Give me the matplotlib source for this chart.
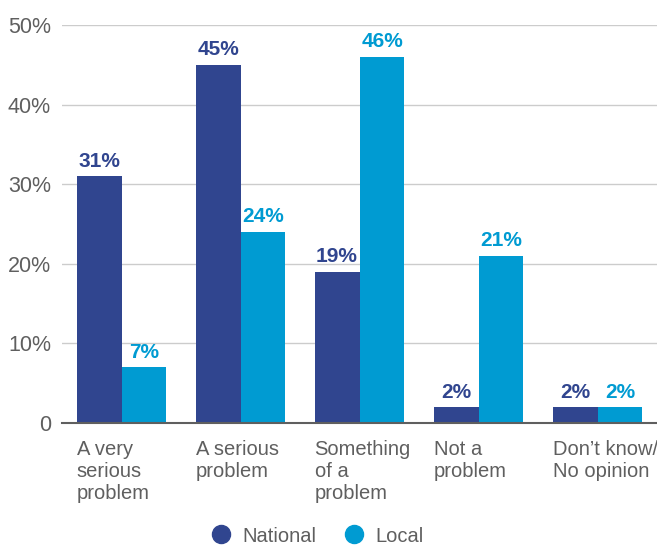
import numpy as np
import matplotlib.pyplot as plt
from matplotlib.lines import Line2D
from matplotlib.transforms import blended_transform_factory

plt.rcParams['font.family'] = ['Liberation Sans', 'DejaVu Sans']

categories = ["A very\nserious\nproblem", "A serious\nproblem", "Something\nof a\nproblem",
              "Not a\nproblem", "Don\u2019t know/\nNo opinion"]
national = [31, 45, 19, 2, 2]
local = [7, 24, 46, 21, 2]
yticks = [0, 10, 20, 30, 40, 50]
ytick_labels = ["0", "10%", "20%", "30%", "40%", "50%"]

navy = "#30458f"
cyan = "#009bd2"
gray = "#5f5f5f"

fig = plt.figure(figsize=(6.57, 5.45), dpi=100)
ax = fig.add_axes([0.0944, 0.2239, 0.9056, 0.7302])

x = np.arange(len(categories))
w = 0.378
b1 = ax.bar(x - w / 2, national, w, color=navy, zorder=3)
b2 = ax.bar(x + w / 2, local, w, color=cyan, zorder=3)

for bars, vals, col in [(b1, national, navy), (b2, local, cyan)]:
    for rect, v in zip(bars, vals):
        ax.annotate(f"{v}%", (rect.get_x() + rect.get_width() / 2, v),
                    xytext=(0, 4), textcoords="offset points",
                    ha="center", va="bottom", fontsize=15, fontweight="bold", color=col)

ax.set_xlim(-0.5, 4.5)
ax.set_ylim(0, 50)
ax.set_yticks(yticks)
ax.set_yticklabels(ytick_labels)
ax.tick_params(axis="y", length=0, pad=8, labelsize=15.5, labelcolor=gray)
ax.set_xticks([])
ax.grid(axis="y", color="#cccccc", linewidth=1, zorder=0)
for s in ["top", "right", "left"]:
    ax.spines[s].set_visible(False)
ax.spines["bottom"].set_color(gray)
ax.spines["bottom"].set_linewidth(1.5)
ax.spines["bottom"].set_zorder(4)

# category labels sit left-aligned under each pair of bars
trans = blended_transform_factory(ax.transData, ax.transAxes)
for xi, label in zip(x, categories):
    ax.text(xi - w, -0.043, label, transform=trans, ha="left", va="top",
            fontsize=14.5, color=gray, linespacing=1.2)

handles = [Line2D([], [], marker="o", linestyle="", markersize=13, color=navy),
           Line2D([], [], marker="o", linestyle="", markersize=13, color=cyan)]
fig.legend(handles, ["National", "Local"], loc="center", bbox_to_anchor=(0.475, 0.0165),
           ncol=2, frameon=False, fontsize=14.5, handletextpad=0.05, columnspacing=0.9,
           labelcolor=gray)

fig.savefig("out.png", dpi=100)
